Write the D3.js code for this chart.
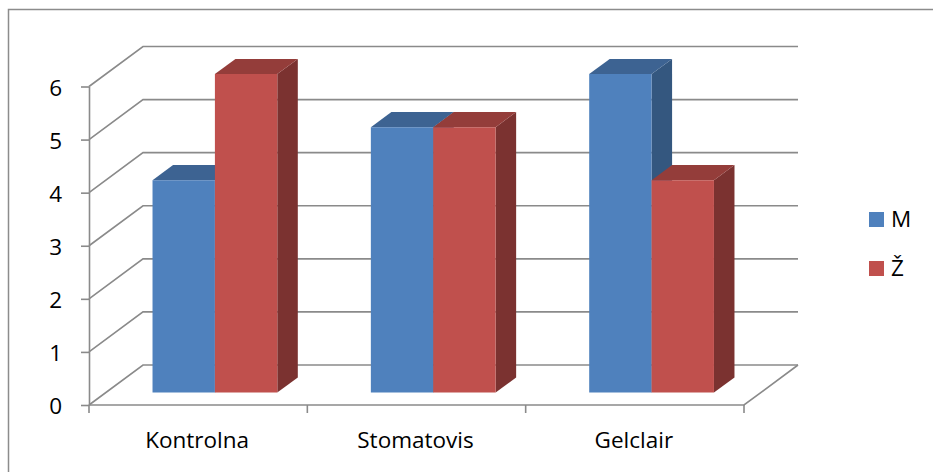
<!DOCTYPE html>
<html><head><meta charset="utf-8">
<script src="https://cdn.jsdelivr.net/npm/d3@7"></script>
<style>
html,body{margin:0;padding:0;background:#fff;}
svg{display:block;}
text{font-family:"Open Sans",Lato,sans-serif;fill:#000;}
</style></head>
<body>
<svg id="c" width="933" height="472"></svg>
<script>
const categories = ["Kontrolna", "Stomatovis", "Gelclair"];
const seriesNames = ["M", "Ž"];
const mValues = [4, 5, 6];
const zValues = [6, 5, 4];
const yTicks = [0, 1, 2, 3, 4, 5, 6];

const seriesValues = [mValues, zValues];
const colors = {
  "M": {front: "#4F81BD", top: "#3D6392", side: "#34577F"},
  "Ž": {front: "#C0504D", top: "#943D3A", side: "#7B3230"}
};
const FONT = "'Open Sans', Lato, sans-serif";
const FS = 22.5;

const svg = d3.select("#c");
const W = 933, H = 472;

// outer chart border (left + top visible)
svg.append("path").attr("d", `M8.5,${H+2} L8.5,9.5 L${W+2},9.5`)
  .attr("fill", "none").attr("stroke", "#8c8c8c").attr("stroke-width", 1.5);

const DX = 54, DY = -40;           // depth projection
const x0 = d3.scaleBand().domain(categories).range([89, 744]).paddingInner(0).paddingOuter(0);
const x1 = d3.scaleBand().domain(seriesNames).range([0, x0.bandwidth()]).paddingInner(0).paddingOuter(0.75);
const y = d3.scaleLinear().domain([0, 6]).range([405, 86.5]);
const P = (xf, v, z) => [xf + DX * z, y(v) + DY * z];
const xL = x0.range()[0], xR = x0.range()[1];
const gridColor = "#8a8a8a";

const g = svg.append("g");
// back wall gridlines and side wall diagonals
yTicks.forEach(t => {
  const a = P(xL, t, 0), b = P(xL, t, 1), c = P(xR, t, 1);
  g.append("path").attr("d", `M${a[0]},${a[1]}L${b[0]},${b[1]}L${c[0]},${c[1]}`)
    .attr("fill", "none").attr("stroke", gridColor).attr("stroke-width", 1.6);
});
// floor front edge + right diagonal
{
  const a = P(xL, 0, 0), b = P(xR, 0, 0), c = P(xR, 0, 1);
  g.append("path").attr("d", `M${a[0]},${a[1]}L${b[0]},${b[1]}L${c[0]},${c[1]}`)
    .attr("fill", "none").attr("stroke", gridColor).attr("stroke-width", 1.6);
}
// y axis
const yAxis = d3.axisLeft(y).tickValues(yTicks).tickSize(8).tickSizeOuter(0).tickPadding(19).tickFormat(d3.format("d"));
const ya = svg.append("g").attr("transform", `translate(${xL},0)`).call(yAxis);
ya.select(".domain").attr("stroke", gridColor).attr("stroke-width", 1.6);
ya.selectAll(".tick line").attr("stroke", gridColor).attr("stroke-width", 1.6);
ya.selectAll(".tick text").attr("font-size", FS).attr("dy", "0.38em").attr("font-family", FONT).attr("fill", "#000");

// category ticks at band edges
const edges = categories.map(c => x0(c)).concat([xR]);
edges.forEach(e => {
  svg.append("line").attr("x1", e).attr("x2", e).attr("y1", y(0)).attr("y2", y(0) + 8)
    .attr("stroke", gridColor).attr("stroke-width", 1.6);
});
categories.forEach(c => {
  svg.append("text").attr("x", x0(c) + x0.bandwidth() / 2 - 1).attr("y", 448)
    .attr("text-anchor", "middle").attr("font-size", FS).text(c);
});

// bars
const z0 = 0.31, z1 = 0.69;
const poly = pts => "M" + pts.map(p => p.join(",")).join("L") + "Z";
const bars = svg.append("g");
categories.forEach((c, ci) => {
  seriesNames.forEach((s, si) => {
    const v = seriesValues[si][ci];
    const xa = x0(c) + x1(s), xb = xa + x1.bandwidth();
    const col = colors[s];
    bars.append("path").attr("d", poly([P(xb, 0, z0), P(xb, v, z0), P(xb, v, z1), P(xb, 0, z1)])).attr("fill", col.side);
    bars.append("path").attr("d", poly([P(xa, v, z0), P(xb, v, z0), P(xb, v, z1), P(xa, v, z1)])).attr("fill", col.top);
    bars.append("path").attr("d", poly([P(xa, 0, z0), P(xb, 0, z0), P(xb, v, z0), P(xa, v, z0)])).attr("fill", col.front);
  });
});

// legend
const leg = svg.append("g");
seriesNames.forEach((s, i) => {
  leg.append("rect").attr("x", 869).attr("y", 212 + i * 49).attr("width", 15).attr("height", 15).attr("fill", colors[s].front);
  leg.append("text").attr("x", 891).attr("y", 227 + i * 49).attr("font-size", FS).text(s);
});
</script>
</body></html>
